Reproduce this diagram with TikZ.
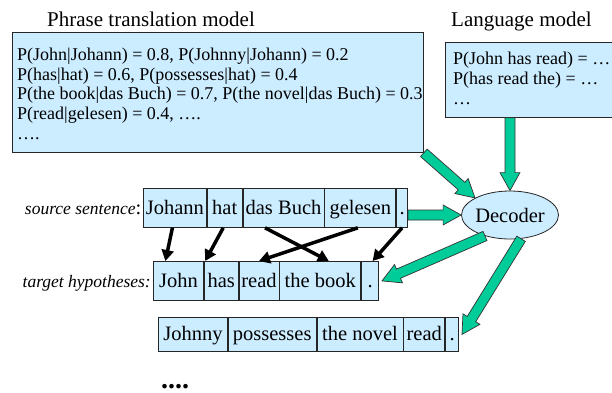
\documentclass[tikz,border=0pt]{standalone}
\usepackage{fontspec}
\setmainfont{Liberation Serif}
\usetikzlibrary{calc,arrows.meta,shapes.geometric}
\definecolor{boxblue}{RGB}{204,236,255}
\definecolor{agreen}{RGB}{0,204,153}
\tikzset{
  panel/.style={draw=black!85, line width=0.8pt, fill=boxblue, inner sep=0pt, anchor=north west},
  cell/.style={draw=black!85, line width=0.8pt, fill=boxblue, inner sep=0pt, anchor=north west,
    text height=14pt, text depth=1pt, font=\fontsize{20.5}{22}\selectfont},
  garrow/.style={draw=black!80, line width=0.7pt, fill=agreen, line join=miter},
  karrow/.style={line width=3.5pt, black, -{Triangle[length=11pt,width=12pt]}},
  ptext/.style={anchor=base west, align=left, inner sep=0pt, font=\fontsize{18}{19.6}\selectfont},
  title/.style={anchor=base west, inner sep=0pt, font=\fontsize{21}{24}\selectfont},
  lab/.style={anchor=base east, inner sep=0pt},
}
\newcommand{\blockarrow}[2]{%
  \draw[garrow]
    ($(#1)!5pt!90:(#2)$) --
    ($($(#2)!18pt!(#1)$)!5pt!-90:(#1)$) --
    ($($(#2)!18pt!(#1)$)!10pt!-90:(#1)$) --
    (#2) --
    ($($(#2)!18pt!(#1)$)!10pt!90:(#1)$) --
    ($($(#2)!18pt!(#1)$)!5pt!90:(#1)$) --
    ($(#1)!5pt!-90:(#2)$) -- cycle;}
\begin{document}
\begin{tikzpicture}[x=1pt,y=-1pt]
\useasboundingbox (0,0) rectangle (612,392);

% titles
\node[title] (ptitle) at (47,26) {Phrase translation model};
\node[title] (ltitle) at (451,26) {Language model};

% phrase translation model box (multi-line base = last line)
\node[panel, minimum width=411pt, minimum height=120pt] (phrase) at (12,32) {};
\node[ptext] (phrasetext) at (17,139) {P(John|Johann) = 0.8, P(Johnny|Johann) = 0.2\\
P(has|hat) = 0.6, P(possesses|hat) = 0.4\\
P(the book|das Buch) = 0.7, P(the novel|das Buch) = 0.3\\
P(read|gelesen) = 0.4, ….\\
….};

% language model box
\node[panel, minimum width=180pt, minimum height=75pt] (lm) at (445,42) {};
\node[ptext] (lmtext) at (453,104) {P(John has read) = …\\
P(has read the) = …\\
…};

% decoder
\node[ellipse, draw=black!85, line width=0.8pt, fill=boxblue, minimum width=97pt,
  minimum height=48pt, inner sep=0pt, font=\fontsize{20.5}{22}\selectfont] (decoder) at (510,215) {\makebox[0pt]{Decoder}};

% source sentence
\node[cell, minimum width=63pt, minimum height=39pt] (s1) at (143,188) {Johann};
\node[cell, minimum width=35pt, minimum height=39pt] (s2) at (s1.north east) {hat};
\node[cell, minimum width=81pt, minimum height=39pt] (s3) at (s2.north east) {das Buch};
\node[cell, minimum width=71pt, minimum height=39pt] (s4) at (s3.north east) {gelesen};
\node[cell, minimum width=11pt, minimum height=39pt] (s5) at (s4.north east) {.};
\node[lab] (srclabel) at ([xshift=-1.5pt]s1.base west)
  {{\itshape\fontsize{17.5}{20}\selectfont source sentence}{\fontsize{20.5}{22}\selectfont:}};

% target hypothesis 1
\node[cell, minimum width=50pt, minimum height=39pt] (t1) at (153,261) {John};
\node[cell, minimum width=34pt, minimum height=39pt] (t2) at (t1.north east) {has};
\node[cell, minimum width=40pt, minimum height=39pt] (t3) at (t2.north east) {read};
\node[cell, minimum width=81pt, minimum height=39pt] (t4) at (t3.north east) {the book};
\node[cell, minimum width=17pt, minimum height=39pt] (t5) at (t4.north east) {.};
\node[lab, font=\itshape\fontsize{17.5}{20}\selectfont] (tgtlabel) at ([xshift=-2pt]t1.base west) {target hypotheses:};

% target hypothesis 2
\node[cell, minimum width=69pt, minimum height=34pt] (h1) at (158,317) {Johnny};
\node[cell, minimum width=88pt, minimum height=34pt] (h2) at (h1.north east) {possesses};
\node[cell, minimum width=86pt, minimum height=34pt] (h3) at (h2.north east) {the novel};
\node[cell, minimum width=41pt, minimum height=34pt] (h4) at (h3.north east) {read};
\node[cell, minimum width=13pt, minimum height=34pt] (h5) at (h4.north east) {.};

\node[anchor=base west, inner sep=0pt, font=\bfseries\fontsize{28}{29}\selectfont] (more) at (161,388) {....};

% alignment arrows
\draw[karrow] ([xshift=-2.5pt]s1.south) -- ([xshift=-13pt]t1.north);
\draw[karrow] ([xshift=-1.5pt]s2.south) -- ([xshift=-16pt]t2.north);
\draw[karrow] ([xshift=-18.5pt]s3.south) -- ([xshift=8.5pt]t4.north);
\draw[karrow] ([xshift=-2.5pt]s4.south) -- (t3.north);
\draw[karrow] (s5.south) -- ([xshift=2.5pt]t5.north);

% green block arrows
\coordinate (lmout) at (lm.south -| decoder.north);
\coordinate (srcout) at (s5.east |- decoder.west);
\coordinate (t5tip) at ([xshift=3pt]t5.east);
\coordinate (h5tip) at ([xshift=3pt]h5.east);
\blockarrow{phrase.south east}{decoder.154}
\blockarrow{lmout}{decoder.north}
\blockarrow{srcout}{decoder.west}
\blockarrow{decoder.220}{t5tip}
\blockarrow{decoder.295}{h5tip}
\end{tikzpicture}
\end{document}
